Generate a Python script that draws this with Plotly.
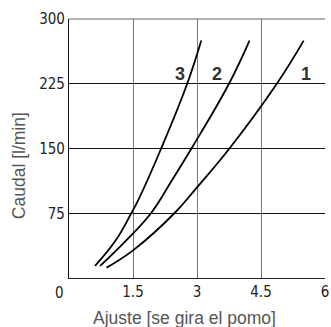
import plotly.graph_objects as go

# Data
c1_x = [0.88, 1.50, 2.47, 3.00, 3.76, 4.87, 5.50]
c1_y = [12, 32, 75, 105, 150, 225, 275]
c2_x = [0.73, 1.33, 1.92, 2.41, 2.87, 3.75, 4.23]
c2_y = [14, 43, 75, 113, 150, 225, 275]
c3_x = [0.61, 1.10, 1.46, 1.64, 2.16, 2.77, 3.10]
c3_y = [14, 44, 75, 92, 150, 225, 275]
curve_labels = ["1", "2", "3"]
label_x = [5.56, 3.48, 2.60]
label_y = [236, 236, 236]
x_ticks = [0, 1.5, 3, 4.5, 6]
x_ticktext = ["", "1.5", "3", "4.5", "6"]
y_ticks = [0, 75, 150, 225, 300]
y_ticktext = ["", "75", "150", "225", "300"]

tick_font = dict(family="Liberation Sans Narrow, DejaVu Sans Condensed, Arial Narrow, sans-serif",
                 size=15, color="#222")
title_font = dict(family="Liberation Sans, Arial, Helvetica, sans-serif", size=17.5, color="#555")

fig = go.Figure()
for xs, ys in [(c1_x, c1_y), (c2_x, c2_y), (c3_x, c3_y)]:
    fig.add_trace(go.Scatter(x=xs, y=ys, mode="lines",
                             line=dict(color="black", width=1.8, shape="spline", smoothing=1.2),
                             showlegend=False, hoverinfo="skip"))

for t, lx, ly in zip(curve_labels, label_x, label_y):
    fig.add_annotation(x=lx, y=ly, text="<b>" + t + "</b>", showarrow=False,
                       font=dict(family="Liberation Sans, Arial, sans-serif", size=18, color="#333"))

# origin label shared by both axes
fig.add_annotation(x=0, y=0, xref="x", yref="y", text="0", showarrow=False,
                   xanchor="right", yanchor="top", xshift=-3, yshift=-4, font=tick_font)

# axis titles
fig.add_annotation(x=0.45, y=-0.155, xref="paper", yref="paper", text="Ajuste [se gira el pomo]",
                   showarrow=False, xanchor="center", yanchor="middle", font=title_font)
fig.add_annotation(x=-0.195, y=0.432, xref="paper", yref="paper", text="Caudal [l/min]",
                   showarrow=False, textangle=-90, xanchor="center", yanchor="middle", font=title_font)

# top border
fig.add_shape(type="line", xref="paper", yref="paper", x0=0, x1=1, y0=1, y1=1,
              line=dict(color="#666", width=1.2), layer="above")

fig.update_xaxes(range=[0, 6], tickvals=x_ticks, ticktext=x_ticktext, showgrid=True,
                 gridcolor="#777", gridwidth=1.2, showline=True, linecolor="#222", linewidth=1.2,
                 ticks="", tickfont=tick_font, zeroline=False, ticklabeloverflow="allow")
fig.update_yaxes(range=[0, 300], tickvals=y_ticks, ticktext=y_ticktext, showgrid=True,
                 gridcolor="#111", gridwidth=1.2, showline=True, linecolor="#111", linewidth=1.2,
                 ticks="", tickfont=tick_font, zeroline=False)

fig.update_layout(width=331, height=327, margin=dict(l=69, r=2, t=19, b=49),
                  plot_bgcolor="white", paper_bgcolor="white")
fig.write_html("out.html", config={"displayModeBar": False},
               post_script="document.body.style.margin='0';document.body.style.overflow='hidden';")
